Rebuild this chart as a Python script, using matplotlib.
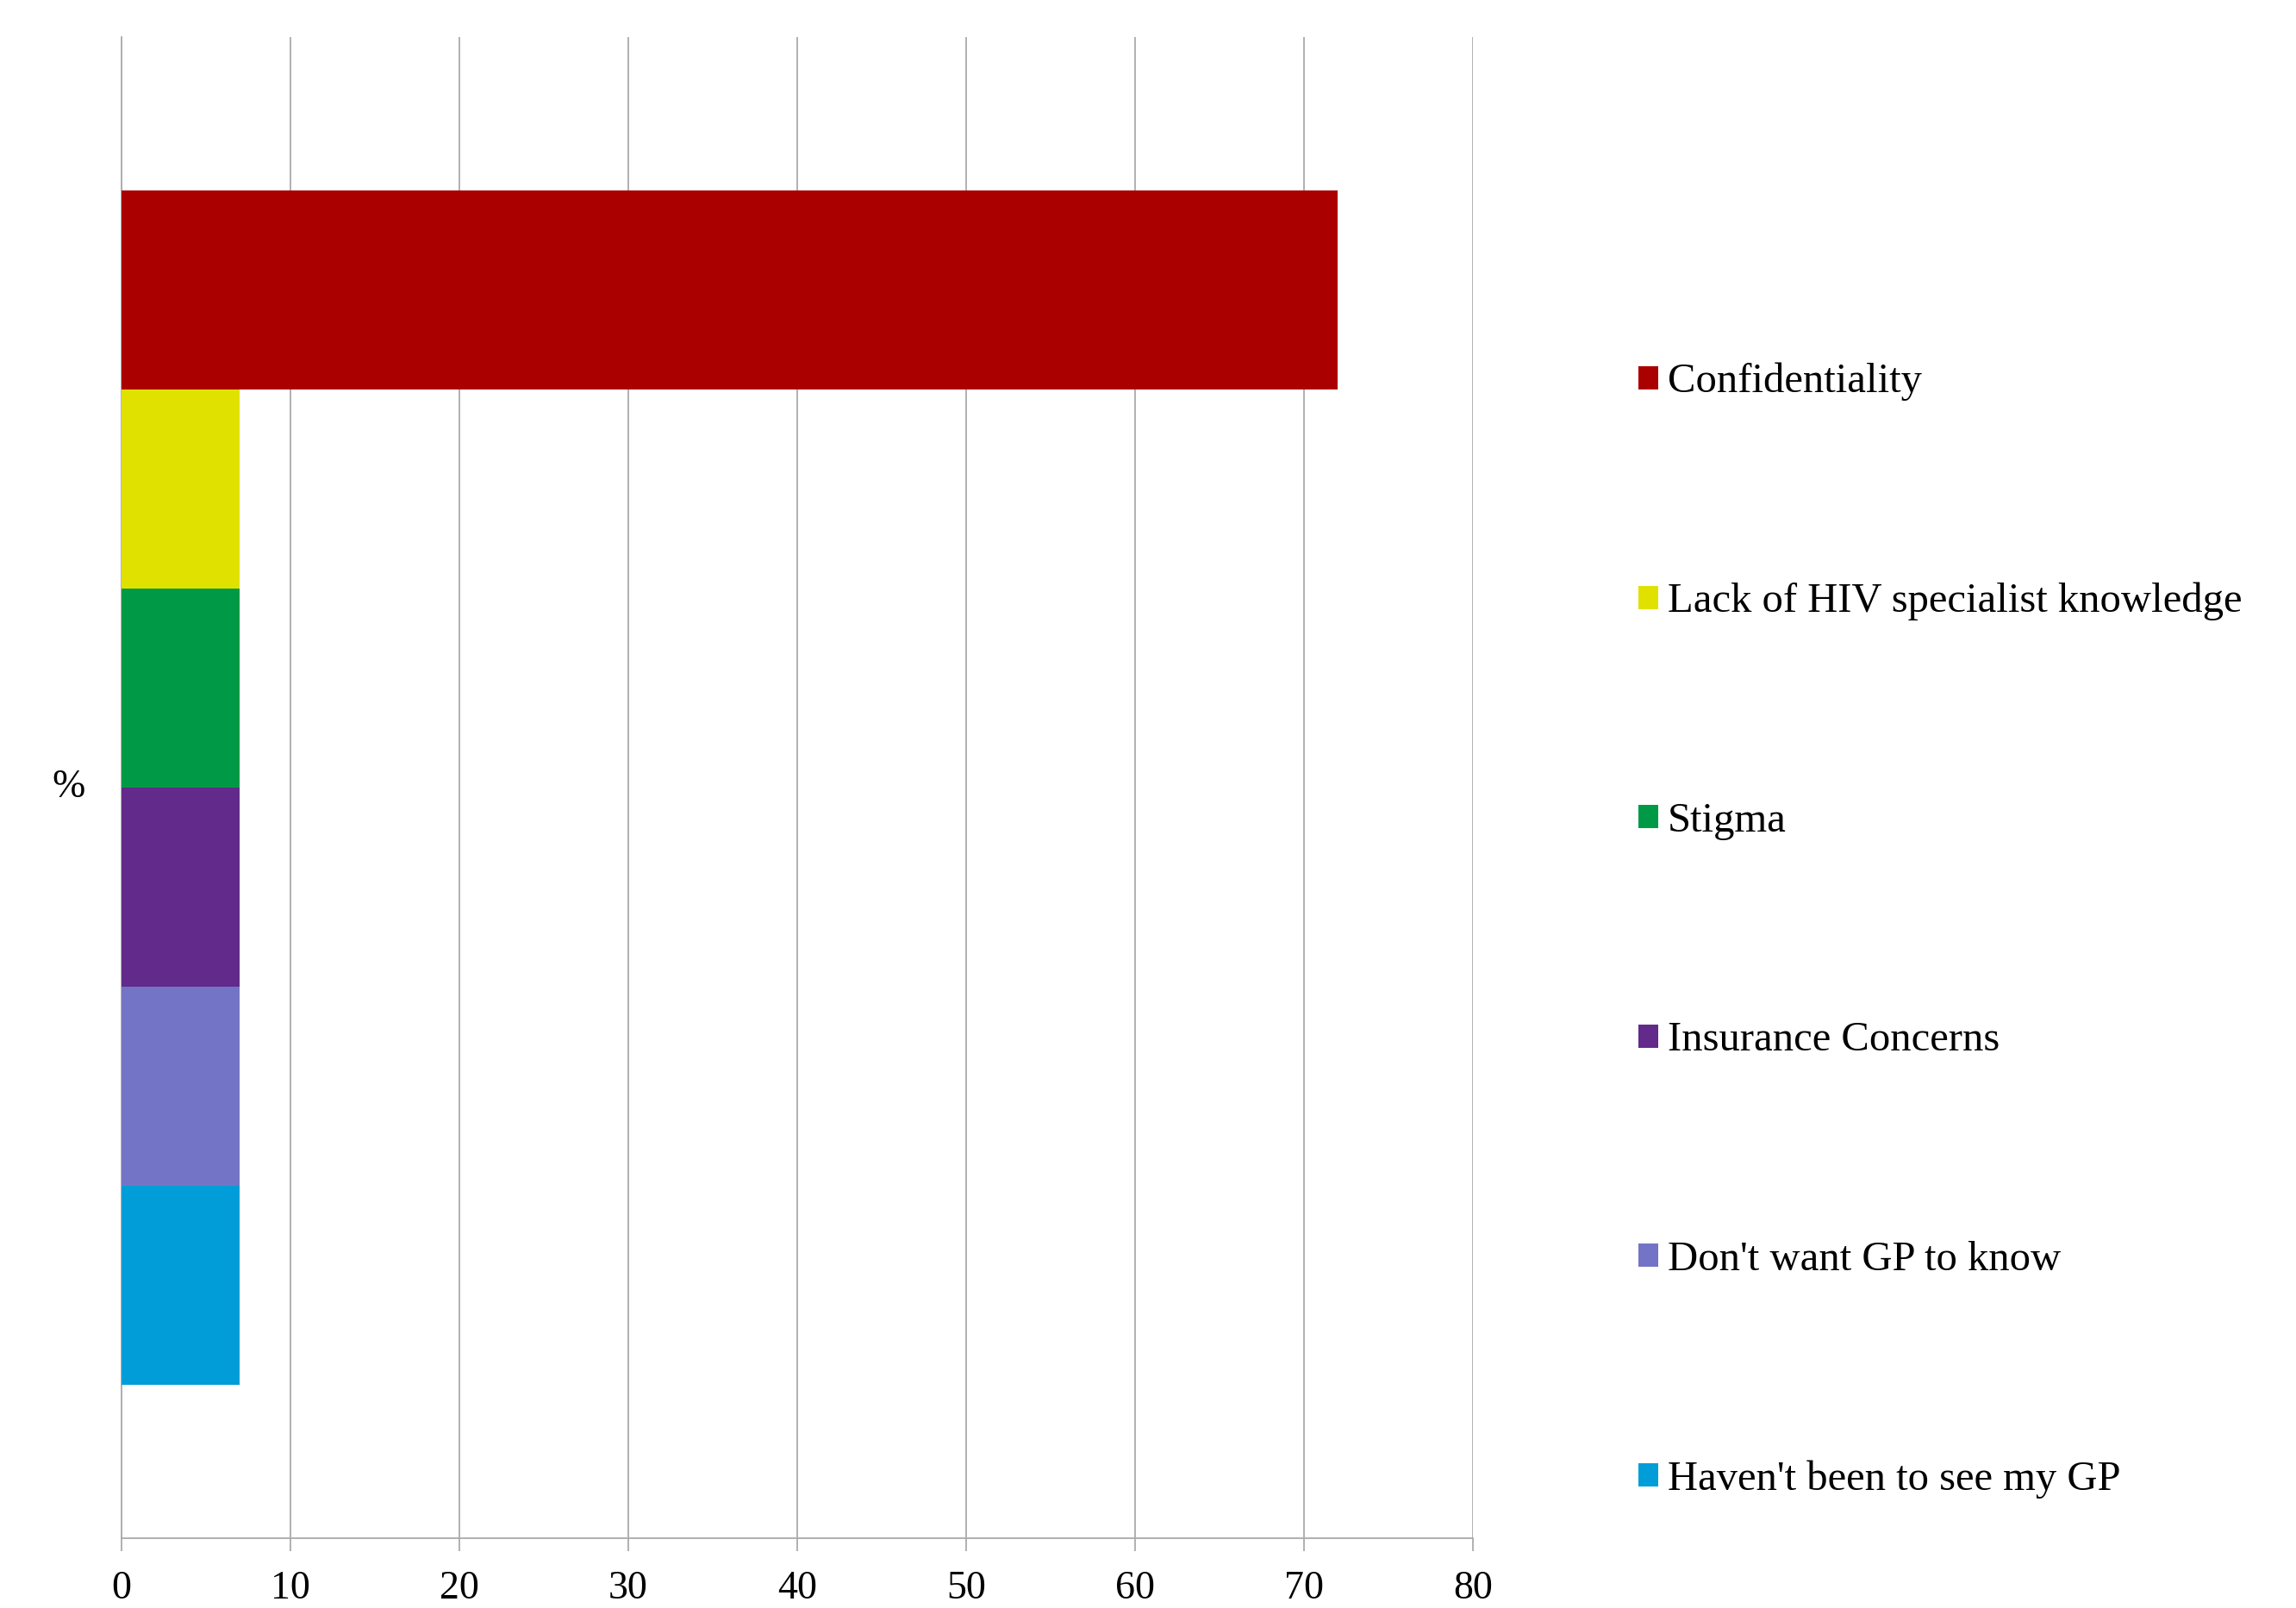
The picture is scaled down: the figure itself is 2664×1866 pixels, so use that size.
import matplotlib
matplotlib.use('Agg')
import matplotlib.pyplot as plt
import numpy as np

plt.rcParams['font.family'] = ['Liberation Serif', 'DejaVu Serif']

# reasons given (%), top to bottom
reasons = ['Confidentiality', 'Lack of HIV specialist knowledge', 'Stigma',
           'Insurance Concerns', "Don't want GP to know", "Haven't been to see my GP"]
percent = [72, 7, 7, 7, 7, 7]
colors = ['#AA0000', '#E1E100', '#009A46', '#622A8A', '#7474C6', '#009DD8']
x_ticks = [0, 10, 20, 30, 40, 50, 60, 70, 80]

fig = plt.figure(figsize=(26.64, 18.66), dpi=100)
ax = fig.add_axes([0.0529, 0.0434, 0.5886, 0.9336])

n = len(reasons)
group_width = 0.796
bar_h = group_width / n
offsets = (np.arange(n) - (n - 1) / 2) * bar_h

for off, val, col, lab in zip(offsets, percent, colors, reasons):
    ax.barh(off, val, height=bar_h, color=col, label=lab, zorder=3)

ax.set_ylim(0.5, -0.5)
ax.set_xlim(0, 80)
ax.set_xticks(x_ticks)
ax.set_yticks([])
ax.grid(axis='x', color='#AAAAAA', linewidth=1.3, zorder=0)

for s in ['top', 'right']:
    ax.spines[s].set_visible(False)
for s in ['left', 'bottom']:
    ax.spines[s].set_color('#AAAAAA')
    ax.spines[s].set_linewidth(1.3)

ax.tick_params(axis='x', direction='out', length=11, width=1.3, color='#AAAAAA',
               labelsize=33, pad=16)

ax.set_ylabel('%', rotation=0, fontsize=33, ha='center', va='center')
ax.yaxis.set_label_coords(-0.039, 0.5)

fig.legend(loc='center left', bbox_to_anchor=(0.7135, 0.4213), frameon=False,
           fontsize=35, labelspacing=4.33, handlelength=0.48, handleheight=0.48,
           handletextpad=0.22, borderpad=0, borderaxespad=0)

fig.savefig('out.png', dpi=100, facecolor='white')
